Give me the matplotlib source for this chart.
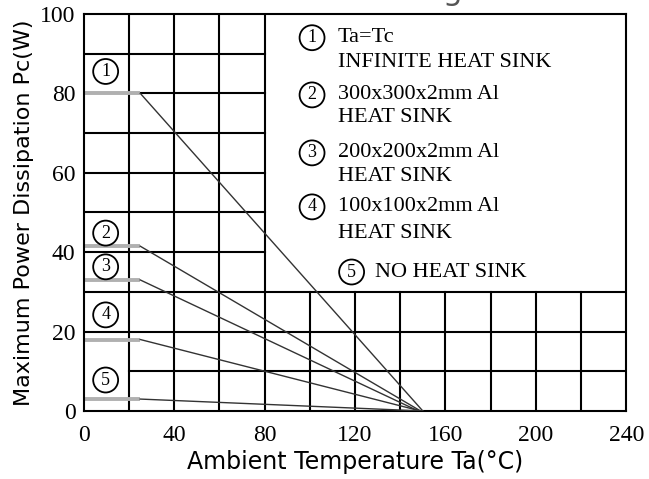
import matplotlib
matplotlib.use('Agg')
import matplotlib.pyplot as plt

# derating curves: flat at pc_max up to t_bend, then linear down to t_zero
curve_ids = ['1', '2', '3', '4', '5']
t_bend = [25, 25, 25, 25, 25]
pc_max = [80, 41.5, 33, 18, 3]
t_zero = [150, 149, 148, 149, 150]

legend_lines = [('Ta=Tc', 'INFINITE HEAT SINK'),
                ('300x300x2mm Al', 'HEAT SINK'),
                ('200x200x2mm Al', 'HEAT SINK'),
                ('100x100x2mm Al', 'HEAT SINK')]
left_label_y = [85.5, 44.8, 36.3, 24.2, 7.8]

x_ticks = [0, 40, 80, 120, 160, 200, 240]
y_ticks = [0, 20, 40, 60, 80, 100]

SERIF = 'Liberation Serif'
SANS = 'DejaVu Sans'

fig = plt.figure(figsize=(6.49, 4.79), dpi=100)
ax = fig.add_axes([0.129, 0.142, 0.836, 0.829])
ax.set_xlim(0, 240); ax.set_ylim(0, 100)

# irregular chart grid
gkw = dict(color='black', lw=1.5, zorder=1)
for x in [20, 40, 60, 80]:
    ax.plot([x, x], [0, 100], **gkw)
for x in range(100, 240, 20):
    ax.plot([x, x], [0, 30], **gkw)
for y in [50, 60, 70, 80, 90]:
    ax.plot([0, 80], [y, y], **gkw)
ax.plot([0, 80], [40, 40], **gkw)
ax.plot([0, 240], [30, 30], **gkw)
ax.plot([0, 240], [20, 20], **gkw)
ax.plot([20, 240], [10, 10], **gkw)
for s in ax.spines.values():
    s.set_linewidth(1.5)

# curves
for tb, pm, tz in zip(t_bend, pc_max, t_zero):
    ax.plot([0, tb], [pm, pm], color='#b0b0b0', lw=2.8, solid_capstyle='butt', zorder=2)
    ax.plot([tb, tz], [pm, 0], color='#333333', lw=1.0, zorder=3)

circ = dict(boxstyle='circle,pad=0.22', fc='white', ec='black', lw=1.3)
for cid, y in zip(curve_ids, left_label_y):
    ax.text(9.7, y, cid, family=SERIF, fontsize=13, ha='center', va='center',
            bbox=circ, zorder=4)

# legend block
leg_y = [(94, 87.7), (79.6, 73.8), (65, 59), (51.4, 44.8)]
for cid, (l1, l2), (y1, y2) in zip(curve_ids, legend_lines, leg_y):
    ax.text(101, y1, cid, family=SERIF, fontsize=13, ha='center', va='center', bbox=circ)
    ax.text(112.5, y1, l1, family=SERIF, fontsize=16, va='center')
    ax.text(112.5, y2, l2, family=SERIF, fontsize=16, va='center')
ax.text(118.5, 35, curve_ids[4], family=SERIF, fontsize=13, ha='center', va='center', bbox=circ)
ax.text(129, 35, 'NO HEAT SINK', family=SERIF, fontsize=16, va='center')

ax.set_xticks(x_ticks); ax.set_yticks(y_ticks)
ax.tick_params(length=0, labelsize=17)
ax.tick_params(axis='x', pad=10)
ax.tick_params(axis='y', pad=6)
for lab in ax.get_xticklabels() + ax.get_yticklabels():
    lab.set_family(SERIF)

ax.set_xlabel('Ambient Temperature Ta(°C)', family=SANS, fontsize=17, labelpad=3)
ax.set_ylabel('Maximum Power Dissipation Pc(W)', family=SANS, fontsize=16, labelpad=4)

# title, almost entirely cut off at the top edge as in the source
fig.text(0.713, 1.0, 'Power Derating', family=SANS, fontsize=22.5, color='#555555',
         ha='right', va='baseline')

fig.savefig('out.png', dpi=100, facecolor='white')
